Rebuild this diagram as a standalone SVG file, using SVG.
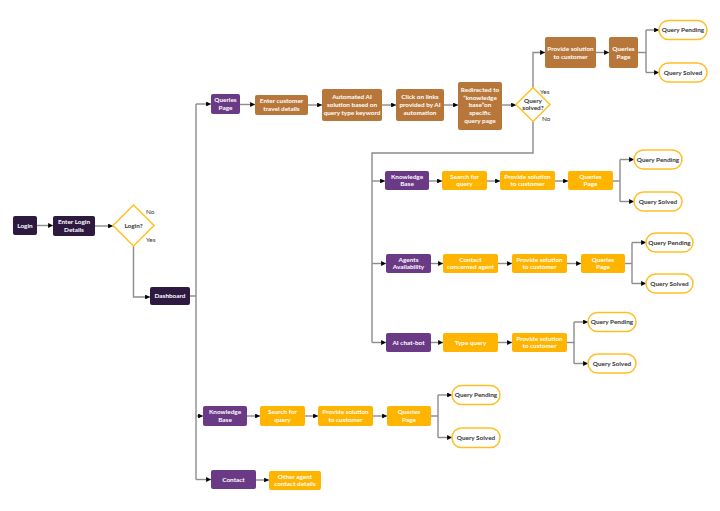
<svg xmlns="http://www.w3.org/2000/svg" width="720" height="511" viewBox="0 0 720 511">
<style>
text{font-family:Lato,"Open Sans","Liberation Sans",sans-serif;font-weight:700;font-size:6.4px;text-anchor:middle}
.w{fill:#ffffff}
.d{fill:#333333}
.lbl{fill:#333333;font-weight:400;font-size:6.4px;text-anchor:start}
.dark{fill:#2e1a40}
.pur{fill:#6b3a87}
.brn{fill:#b8773a}
.org{fill:#ffb400}
.pill{fill:#ffffff;stroke:#ffbe26;stroke-width:1.5}
.dia{fill:#ffffff;stroke:#ffc21f;stroke-width:1.5}
.c path{fill:none;stroke:#8c8c8c;stroke-width:1.4}
</style>
<defs>
<marker id="a" viewBox="0 0 6 6" refX="6" refY="3" markerWidth="3.5" markerHeight="3.5" orient="auto">
<path d="M0,0L6,3L0,6z" fill="#000"/>
</marker>
</defs>
<rect width="720" height="511" fill="#ffffff"/>
<g class="c" id="connectors">
<path d="M37,225.5H53" marker-end="url(#a)"/>
<path d="M95,226H113" marker-end="url(#a)"/>
<path d="M133.5,246V297H150" marker-end="url(#a)"/>
<path d="M190,296H196"/>
<path d="M196,104V479.5"/>
<path d="M196,104H211" marker-end="url(#a)"/>
<path d="M196,416H203" marker-end="url(#a)"/>
<path d="M196,479.5H211" marker-end="url(#a)"/>
<path d="M240,104.5H255" marker-end="url(#a)"/>
<path d="M308,105H322" marker-end="url(#a)"/>
<path d="M382,105H396" marker-end="url(#a)"/>
<path d="M444,105H458" marker-end="url(#a)"/>
<path d="M502,105H516" marker-end="url(#a)"/>
<path d="M533,88V52.5H545" marker-end="url(#a)"/>
<path d="M596,52.5H609" marker-end="url(#a)"/>
<path d="M638,52.5H646"/>
<path d="M646,30V72.5"/>
<path d="M646,30H659" marker-end="url(#a)"/>
<path d="M646,72.5H659" marker-end="url(#a)"/>
<path d="M533,122V153H372V342.5"/>
<path d="M372,181H385" marker-end="url(#a)"/>
<path d="M372,263.5H386" marker-end="url(#a)"/>
<path d="M372,342.5H386" marker-end="url(#a)"/>
<path d="M429,181H442" marker-end="url(#a)"/>
<path d="M487,181H500" marker-end="url(#a)"/>
<path d="M555,181H568" marker-end="url(#a)"/>
<path d="M613,181H620"/>
<path d="M620,159.5V201.5"/>
<path d="M620,159.5H634" marker-end="url(#a)"/>
<path d="M620,201.5H634" marker-end="url(#a)"/>
<path d="M431,263.5H443" marker-end="url(#a)"/>
<path d="M498,263.5H512" marker-end="url(#a)"/>
<path d="M567,263.5H581" marker-end="url(#a)"/>
<path d="M625,263.5H632"/>
<path d="M632,242.5V283.5"/>
<path d="M632,242.5H646" marker-end="url(#a)"/>
<path d="M632,283.5H646" marker-end="url(#a)"/>
<path d="M431,342.5H443" marker-end="url(#a)"/>
<path d="M498,342.5H512" marker-end="url(#a)"/>
<path d="M567,342.5H574"/>
<path d="M574,322V363.5"/>
<path d="M574,322H588" marker-end="url(#a)"/>
<path d="M574,363.5H588" marker-end="url(#a)"/>
<path d="M247,416H260" marker-end="url(#a)"/>
<path d="M305,416H318" marker-end="url(#a)"/>
<path d="M373,416H387" marker-end="url(#a)"/>
<path d="M431,416H438"/>
<path d="M438,395V437.5"/>
<path d="M438,395H452" marker-end="url(#a)"/>
<path d="M438,437.5H452" marker-end="url(#a)"/>
<path d="M256,480H269" marker-end="url(#a)"/>
</g>
<g id="login"><rect class="dark" x="13" y="216" width="24" height="19" rx="2"/><text class="w" x="25" y="227.8">Login</text></g>
<g id="enter-login"><rect class="dark" x="53" y="216" width="42" height="20" rx="2"/><text class="w" x="74" y="224">Enter Login</text><text class="w" x="74" y="231.8">Details</text></g>
<g id="login-decision"><path class="dia" d="M133.5,205L154,225.5L133.5,246L113,225.5Z"/><text class="d" x="133.5" y="227.8">Login?</text><text class="lbl" x="146" y="214">No</text><text class="lbl" x="146" y="242">Yes</text></g>
<g id="dashboard"><rect class="dark" x="150" y="287" width="40" height="18" rx="2"/><text class="w" x="170" y="298.3">Dashboard</text></g>
<g id="queries-page-1"><rect class="pur" x="211" y="94" width="29" height="20" rx="2"/><text class="w" x="225.5" y="102">Queries</text><text class="w" x="225.5" y="109.8">Page</text></g>
<g id="enter-customer"><rect class="brn" x="255" y="95" width="53" height="20" rx="2"/><text class="w" x="281.5" y="103">Enter customer</text><text class="w" x="281.5" y="110.8">travel details</text></g>
<g id="automated-ai"><rect class="brn" x="322" y="89" width="60" height="32" rx="2"/><text class="w" x="352" y="99">Automated AI</text><text class="w" x="352" y="106.8">solution based on</text><text class="w" x="352" y="114.6">query type keyword</text></g>
<g id="click-links"><rect class="brn" x="396" y="89" width="48" height="32" rx="2"/><text class="w" x="420" y="99">Click on links</text><text class="w" x="420" y="106.8">provided by AI</text><text class="w" x="420" y="114.6">automation</text></g>
<g id="redirected"><rect class="brn" x="458" y="82" width="44" height="48" rx="2"/><text class="w" x="480" y="92">Redirected to</text><text class="w" x="480" y="99.7">“knowledge</text><text class="w" x="480" y="107.4">base”on</text><text class="w" x="480" y="115.1">specific</text><text class="w" x="480" y="122.8">query page</text></g>
<g id="query-solved-decision"><path class="dia" d="M533,87.5L550,104.5L533,121.5L516,104.5Z"/><text class="d" x="533" y="103">Query</text><text class="d" x="533" y="110.3">solved?</text><text class="lbl" x="540" y="94">Yes</text><text class="lbl" x="542" y="121">No</text></g>
<g id="provide-solution-1"><rect class="brn" x="545" y="37" width="51" height="31" rx="2"/><text class="w" x="570.5" y="51">Provide solution</text><text class="w" x="570.5" y="58.8">to customer</text></g>
<g id="queries-page-2"><rect class="brn" x="609" y="37" width="29" height="31" rx="2"/><text class="w" x="623.5" y="51">Queries</text><text class="w" x="623.5" y="58.8">Page</text></g>
<g id="pending-1"><rect class="pill" x="659" y="20.5" width="48" height="19" rx="9.5"/><text class="d" x="683" y="32.2">Query Pending</text></g>
<g id="solved-1"><rect class="pill" x="659" y="63" width="48" height="19" rx="9.5"/><text class="d" x="683" y="74.7">Query Solved</text></g>
<g id="kb-2"><rect class="pur" x="385" y="171" width="44" height="19" rx="2"/><text class="w" x="407" y="178.5">Knowledge</text><text class="w" x="407" y="186.3">Base</text></g>
<g id="search-2"><rect class="org" x="442" y="171" width="45" height="19" rx="2"/><text class="w" x="464.5" y="178.5">Search for</text><text class="w" x="464.5" y="186.3">query</text></g>
<g id="provide-2"><rect class="org" x="500" y="171" width="55" height="19" rx="2"/><text class="w" x="527.5" y="178.5">Provide solution</text><text class="w" x="527.5" y="186.3">to customer</text></g>
<g id="queries-page-3"><rect class="org" x="568" y="171" width="45" height="19" rx="2"/><text class="w" x="590.5" y="178.5">Queries</text><text class="w" x="590.5" y="186.3">Page</text></g>
<g id="pending-2"><rect class="pill" x="634" y="150" width="48" height="19" rx="9.5"/><text class="d" x="658" y="161.7">Query Pending</text></g>
<g id="solved-2"><rect class="pill" x="634" y="192" width="48" height="19" rx="9.5"/><text class="d" x="658" y="203.7">Query Solved</text></g>
<g id="agents"><rect class="pur" x="386" y="254" width="45" height="19" rx="2"/><text class="w" x="408.5" y="261.5">Agents</text><text class="w" x="408.5" y="269.3">Availability</text></g>
<g id="contact-agent"><rect class="org" x="443" y="254" width="55" height="19" rx="2"/><text class="w" x="470.5" y="261.5">Contact</text><text class="w" x="470.5" y="269.3">concerned agent</text></g>
<g id="provide-3"><rect class="org" x="512" y="254" width="55" height="19" rx="2"/><text class="w" x="539.5" y="261.5">Provide solution</text><text class="w" x="539.5" y="269.3">to customer</text></g>
<g id="queries-page-4"><rect class="org" x="581" y="254" width="44" height="19" rx="2"/><text class="w" x="603" y="261.5">Queries</text><text class="w" x="603" y="269.3">Page</text></g>
<g id="pending-3"><rect class="pill" x="646" y="233" width="47" height="19" rx="9.5"/><text class="d" x="669.5" y="244.7">Query Pending</text></g>
<g id="solved-3"><rect class="pill" x="646" y="274" width="47" height="19" rx="9.5"/><text class="d" x="669.5" y="285.7">Query Solved</text></g>
<g id="chatbot"><rect class="pur" x="386" y="333" width="45" height="19" rx="2"/><text class="w" x="408.5" y="344.7">AI chat-bot</text></g>
<g id="type-query"><rect class="org" x="443" y="333" width="55" height="19" rx="2"/><text class="w" x="470.5" y="344.7">Type query</text></g>
<g id="provide-4"><rect class="org" x="512" y="333" width="55" height="19" rx="2"/><text class="w" x="539.5" y="340.5">Provide solution</text><text class="w" x="539.5" y="348.3">to customer</text></g>
<g id="pending-4"><rect class="pill" x="588" y="312.5" width="48" height="19" rx="9.5"/><text class="d" x="612" y="324.2">Query Pending</text></g>
<g id="solved-4"><rect class="pill" x="588" y="354" width="48" height="19" rx="9.5"/><text class="d" x="612" y="365.7">Query Solved</text></g>
<g id="kb-1"><rect class="pur" x="203" y="406" width="44" height="20" rx="2"/><text class="w" x="225" y="414">Knowledge</text><text class="w" x="225" y="421.8">Base</text></g>
<g id="search-1"><rect class="org" x="260" y="406" width="45" height="20" rx="2"/><text class="w" x="282.5" y="414">Search for</text><text class="w" x="282.5" y="421.8">query</text></g>
<g id="provide-5"><rect class="org" x="318" y="406" width="55" height="20" rx="2"/><text class="w" x="345.5" y="414">Provide solution</text><text class="w" x="345.5" y="421.8">to customer</text></g>
<g id="queries-page-5"><rect class="org" x="387" y="406" width="44" height="20" rx="2"/><text class="w" x="409" y="414">Queries</text><text class="w" x="409" y="421.8">Page</text></g>
<g id="pending-5"><rect class="pill" x="452" y="385.5" width="48" height="19" rx="9.5"/><text class="d" x="476" y="397.2">Query Pending</text></g>
<g id="solved-5"><rect class="pill" x="452" y="428" width="48" height="19.5" rx="9.5"/><text class="d" x="476" y="439.9">Query Solved</text></g>
<g id="contact"><rect class="pur" x="211" y="470" width="45" height="19" rx="2"/><text class="w" x="233.5" y="481.7">Contact</text></g>
<g id="other-agent"><rect class="org" x="269" y="471" width="52" height="19" rx="2"/><text class="w" x="295" y="478.5">Other agent</text><text class="w" x="295" y="486.3">contact details</text></g>
</svg>
